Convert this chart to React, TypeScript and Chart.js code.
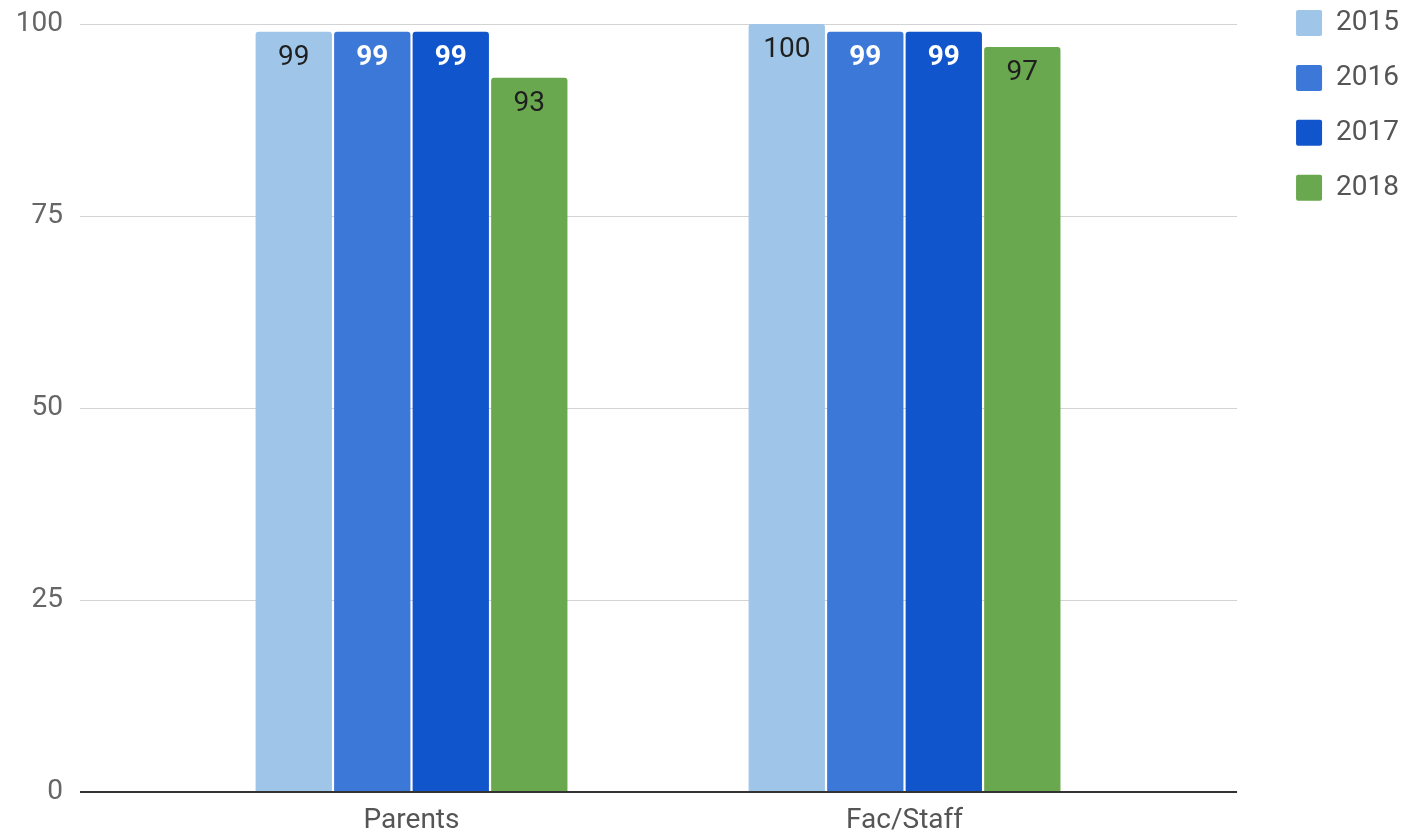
import { useEffect, useRef } from "react";
import { Chart, registerables } from "chart.js";

Chart.register(...registerables);

const categories = ["Parents", "Fac/Staff"];
const seriesNames = ["2015", "2016", "2017", "2018"];
const values2015 = [99, 100];
const values2016 = [99, 99];
const values2017 = [99, 99];
const values2018 = [93, 97];
const yTickValues = [0, 25, 50, 75, 100];

const seriesValues = [values2015, values2016, values2017, values2018];
const seriesColors = ["#9fc5e8", "#3c78d8", "#1155cc", "#6aa84f"];
const labelColors = ["#1f1f1f", "#ffffff", "#ffffff", "#1f1f1f"];
const labelWeights = ["normal", "bold", "bold", "normal"];

const FONT = "Roboto";

const gridColor = (ctx: any) => (ctx.tick && ctx.tick.value === 0 ? "#333333" : "#d3d3d3");
const gridWidth = (ctx: any) => (ctx.tick && ctx.tick.value === 0 ? 2 : 1);

const valueLabels = {
  id: "valueLabels",
  afterDatasetsDraw(chart: any) {
    const ctx = chart.ctx;
    chart.data.datasets.forEach((ds: any, di: number) => {
      const meta = chart.getDatasetMeta(di);
      meta.data.forEach((bar: any, i: number) => {
        ctx.save();
        ctx.font = `${labelWeights[di]} 28px ${FONT}`;
        ctx.fillStyle = labelColors[di];
        ctx.textAlign = "center";
        ctx.textBaseline = "middle";
        ctx.fillText(String(ds.data[i]), bar.x, bar.y + 26);
        ctx.restore();
      });
    });
  },
};

export default function App() {
  const canvasRef = useRef<HTMLCanvasElement | null>(null);

  useEffect(() => {
    if (!canvasRef.current) return;
    const chart = new Chart(canvasRef.current, {
      type: "bar",
      data: {
        labels: categories,
        datasets: seriesNames.map((name, i) => ({
          label: name,
          data: seriesValues[i],
          backgroundColor: seriesColors[i],
          borderWidth: 0,
          borderRadius: 3,
          categoryPercentage: 0.637,
          barPercentage: 0.972,
        })),
      },
      options: {
        animation: false,
        responsive: true,
        maintainAspectRatio: false,
        layout: { padding: { left: 0, top: 0, bottom: 0, right: 8 } },
        plugins: {
          tooltip: { enabled: false },
          legend: {
            position: "right",
            align: "start",
            labels: {
              boxWidth: 26,
              boxHeight: 26,
              padding: 9,
              color: "#555555",
              font: { family: FONT, size: 28, lineHeight: 1.64 },
              generateLabels: (c: any) =>
                c.data.datasets.map((ds: any, i: number) => ({
                  text: [ds.label],
                  fillStyle: seriesColors[i],
                  strokeStyle: seriesColors[i],
                  fontColor: "#555555",
                  lineWidth: 0,
                  hidden: false,
                  datasetIndex: i,
                  borderRadius: 2,
                })),
            },
          },
        },
        scales: {
          x: {
            grid: { display: false, drawTicks: false },
            border: { display: false },
            ticks: { padding: 12, color: "#555555", font: { family: FONT, size: 28 } },
            afterFit: (s: any) => {
              s.height = 43;
            },
          },
          y: {
            position: "left",
            min: 0,
            max: 100,
            afterBuildTicks: (s: any) => {
              s.ticks = yTickValues.map((v) => ({ value: v }));
            },
            border: { display: false },
            grid: { color: gridColor, lineWidth: gridWidth, drawTicks: true, tickLength: 85 },
            ticks: { padding: 17, color: "#666666", font: { family: FONT, size: 28 } },
            afterFit: (s: any) => {
              s.width = 165;
              s.paddingTop = 24;
            },
          },
          y2: {
            position: "right",
            min: 0,
            max: 100,
            afterBuildTicks: (s: any) => {
              s.ticks = yTickValues.map((v) => ({ value: v }));
            },
            border: { display: false },
            grid: { color: gridColor, lineWidth: gridWidth, drawOnChartArea: false, drawTicks: true, tickLength: 86 },
            ticks: { display: false },
            afterFit: (s: any) => {
              s.width = 136;
            },
          },
        },
      },
      plugins: [valueLabels],
    });
    return () => chart.destroy();
  }, []);

  return (
    <div style={{ position: "absolute", left: 0, top: 0, width: 1417, height: 835, background: "#ffffff" }}>
      <canvas ref={canvasRef} />
    </div>
  );
}
